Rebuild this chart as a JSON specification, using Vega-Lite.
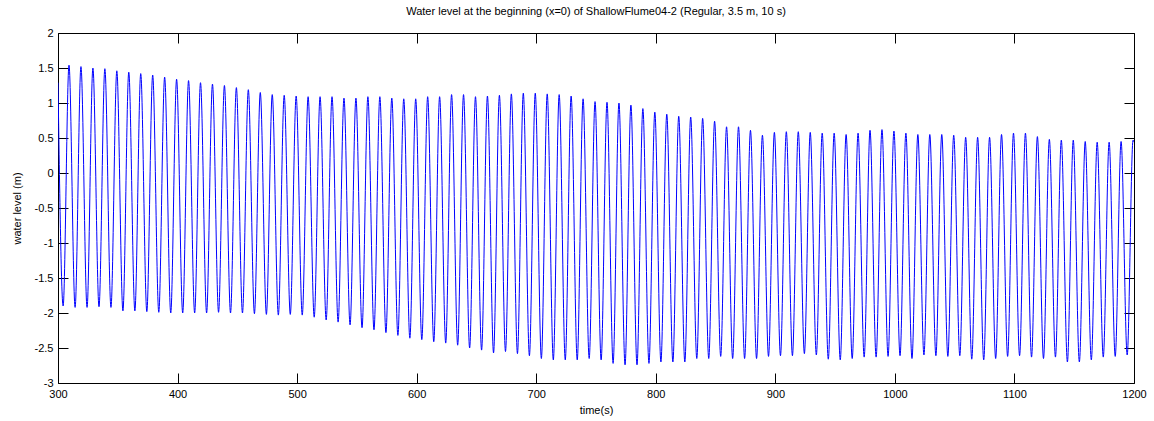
{
  "$schema": "https://vega.github.io/schema/vega-lite/v6.json",
  "width": 1076,
  "height": 350,
  "autosize": {"type": "none"},
  "padding": {"left": 58, "top": 33, "right": 20, "bottom": 38},
  "background": "white",
  "title": {
    "text": "Water level at the beginning (x=0) of ShallowFlume04-2 (Regular, 3.5 m, 10 s)",
    "font": "Liberation Sans",
    "fontSize": 11,
    "fontWeight": "normal",
    "color": "#000000",
    "offset": 10
  },
  "config": {
    "view": {"stroke": null},
    "axis": {
      "grid": false,
      "domainColor": "#000000",
      "domainWidth": 1,
      "tickColor": "#000000",
      "tickWidth": 1,
      "tickSize": -10,
      "labelFlush": false,
      "labelFont": "Liberation Sans",
      "labelFontSize": 11,
      "labelColor": "#000000",
      "titleFont": "Liberation Sans",
      "titleFontSize": 11,
      "titleFontWeight": "normal",
      "titleColor": "#000000"
    }
  },
  "data": {
    "values": [
      {"t": 300, "v": 1.29},
      {"t": 304.3, "v": -1.90}, {"t": 309.2, "v": 1.54},
      {"t": 314.3, "v": -1.92}, {"t": 319.2, "v": 1.52},
      {"t": 324.3, "v": -1.92}, {"t": 329.2, "v": 1.50},
      {"t": 334.3, "v": -1.91}, {"t": 339.2, "v": 1.49},
      {"t": 344.3, "v": -1.92}, {"t": 349.2, "v": 1.46},
      {"t": 354.3, "v": -1.97}, {"t": 359.2, "v": 1.44},
      {"t": 364.3, "v": -1.97}, {"t": 369.2, "v": 1.42},
      {"t": 374.3, "v": -1.98}, {"t": 379.2, "v": 1.40},
      {"t": 384.3, "v": -1.99}, {"t": 389.2, "v": 1.37},
      {"t": 394.3, "v": -2.00}, {"t": 399.2, "v": 1.34},
      {"t": 404.3, "v": -2.00}, {"t": 409.2, "v": 1.32},
      {"t": 414.3, "v": -2.00}, {"t": 419.2, "v": 1.29},
      {"t": 424.3, "v": -2.00}, {"t": 429.2, "v": 1.27},
      {"t": 434.3, "v": -1.99}, {"t": 439.2, "v": 1.25},
      {"t": 444.3, "v": -2.00}, {"t": 449.2, "v": 1.22},
      {"t": 454.3, "v": -2.00}, {"t": 459.2, "v": 1.19},
      {"t": 464.3, "v": -2.01}, {"t": 469.2, "v": 1.15},
      {"t": 474.3, "v": -2.02}, {"t": 479.2, "v": 1.12},
      {"t": 484.3, "v": -2.03}, {"t": 489.2, "v": 1.11},
      {"t": 494.3, "v": -2.02}, {"t": 499.2, "v": 1.10},
      {"t": 504.3, "v": -2.03}, {"t": 509.2, "v": 1.09},
      {"t": 514.3, "v": -2.06}, {"t": 519.2, "v": 1.09},
      {"t": 524.3, "v": -2.10}, {"t": 529.2, "v": 1.09},
      {"t": 534.3, "v": -2.13}, {"t": 539.2, "v": 1.07},
      {"t": 544.3, "v": -2.17}, {"t": 549.2, "v": 1.07},
      {"t": 554.3, "v": -2.21}, {"t": 559.2, "v": 1.09},
      {"t": 564.3, "v": -2.24}, {"t": 569.2, "v": 1.09},
      {"t": 574.3, "v": -2.28}, {"t": 579.2, "v": 1.07},
      {"t": 584.3, "v": -2.32}, {"t": 589.2, "v": 1.06},
      {"t": 594.3, "v": -2.36}, {"t": 599.2, "v": 1.06},
      {"t": 604.3, "v": -2.38}, {"t": 609.2, "v": 1.09},
      {"t": 614.3, "v": -2.41}, {"t": 619.2, "v": 1.09},
      {"t": 624.3, "v": -2.43}, {"t": 629.2, "v": 1.12},
      {"t": 634.3, "v": -2.46}, {"t": 639.2, "v": 1.12},
      {"t": 644.3, "v": -2.50}, {"t": 649.2, "v": 1.09},
      {"t": 654.3, "v": -2.53}, {"t": 659.2, "v": 1.10},
      {"t": 664.3, "v": -2.57}, {"t": 669.2, "v": 1.11},
      {"t": 674.3, "v": -2.55}, {"t": 679.2, "v": 1.13},
      {"t": 684.3, "v": -2.58}, {"t": 689.2, "v": 1.14},
      {"t": 694.3, "v": -2.61}, {"t": 699.2, "v": 1.14},
      {"t": 704.3, "v": -2.65}, {"t": 709.2, "v": 1.13},
      {"t": 714.3, "v": -2.67}, {"t": 719.2, "v": 1.12},
      {"t": 724.3, "v": -2.67}, {"t": 729.2, "v": 1.10},
      {"t": 734.3, "v": -2.67}, {"t": 739.2, "v": 1.06},
      {"t": 744.3, "v": -2.65}, {"t": 749.2, "v": 1.02},
      {"t": 754.3, "v": -2.67}, {"t": 759.2, "v": 1.01},
      {"t": 764.3, "v": -2.72}, {"t": 769.2, "v": 1.00},
      {"t": 774.3, "v": -2.74}, {"t": 779.2, "v": 0.97},
      {"t": 784.3, "v": -2.74}, {"t": 789.2, "v": 0.92},
      {"t": 794.3, "v": -2.72}, {"t": 799.2, "v": 0.87},
      {"t": 804.3, "v": -2.70}, {"t": 809.2, "v": 0.84},
      {"t": 814.3, "v": -2.70}, {"t": 819.2, "v": 0.81},
      {"t": 824.3, "v": -2.70}, {"t": 829.2, "v": 0.80},
      {"t": 834.3, "v": -2.65}, {"t": 839.2, "v": 0.78},
      {"t": 844.3, "v": -2.65}, {"t": 849.2, "v": 0.74},
      {"t": 854.3, "v": -2.62}, {"t": 859.2, "v": 0.66},
      {"t": 864.3, "v": -2.65}, {"t": 869.2, "v": 0.66},
      {"t": 874.3, "v": -2.65}, {"t": 879.2, "v": 0.61},
      {"t": 884.3, "v": -2.65}, {"t": 889.2, "v": 0.54},
      {"t": 894.3, "v": -2.62}, {"t": 899.2, "v": 0.58},
      {"t": 904.3, "v": -2.61}, {"t": 909.2, "v": 0.59},
      {"t": 914.3, "v": -2.61}, {"t": 919.2, "v": 0.59},
      {"t": 924.3, "v": -2.58}, {"t": 929.2, "v": 0.58},
      {"t": 934.3, "v": -2.60}, {"t": 939.2, "v": 0.57},
      {"t": 944.3, "v": -2.66}, {"t": 949.2, "v": 0.57},
      {"t": 954.3, "v": -2.67}, {"t": 959.2, "v": 0.55},
      {"t": 964.3, "v": -2.65}, {"t": 969.2, "v": 0.57},
      {"t": 974.3, "v": -2.63}, {"t": 979.2, "v": 0.61},
      {"t": 984.3, "v": -2.63}, {"t": 989.2, "v": 0.62},
      {"t": 994.3, "v": -2.62}, {"t": 999.2, "v": 0.60},
      {"t": 1004.3, "v": -2.61}, {"t": 1009.2, "v": 0.57},
      {"t": 1014.3, "v": -2.65}, {"t": 1019.2, "v": 0.55},
      {"t": 1024.3, "v": -2.60}, {"t": 1029.2, "v": 0.55},
      {"t": 1034.3, "v": -2.61}, {"t": 1039.2, "v": 0.55},
      {"t": 1044.3, "v": -2.62}, {"t": 1049.2, "v": 0.54},
      {"t": 1054.3, "v": -2.61}, {"t": 1059.2, "v": 0.51},
      {"t": 1064.3, "v": -2.66}, {"t": 1069.2, "v": 0.51},
      {"t": 1074.3, "v": -2.67}, {"t": 1079.2, "v": 0.51},
      {"t": 1084.3, "v": -2.65}, {"t": 1089.2, "v": 0.55},
      {"t": 1094.3, "v": -2.62}, {"t": 1099.2, "v": 0.57},
      {"t": 1104.3, "v": -2.61}, {"t": 1109.2, "v": 0.57},
      {"t": 1114.3, "v": -2.63}, {"t": 1119.2, "v": 0.52},
      {"t": 1124.3, "v": -2.65}, {"t": 1129.2, "v": 0.48},
      {"t": 1134.3, "v": -2.63}, {"t": 1139.2, "v": 0.47},
      {"t": 1144.3, "v": -2.70}, {"t": 1149.2, "v": 0.47},
      {"t": 1154.3, "v": -2.70}, {"t": 1159.2, "v": 0.45},
      {"t": 1164.3, "v": -2.67}, {"t": 1169.2, "v": 0.44},
      {"t": 1174.3, "v": -2.63}, {"t": 1179.2, "v": 0.44},
      {"t": 1184.3, "v": -2.62}, {"t": 1189.2, "v": 0.45},
      {"t": 1194.3, "v": -2.60}, {"t": 1199.2, "v": 0.47},
      {"t": 1200, "v": 0.44}
    ]
  },
  "layer": [
    {
      "mark": {"type": "line", "color": "#0000ff", "strokeWidth": 1, "interpolate": "monotone", "clip": true},
      "encoding": {
        "x": {
          "field": "t", "type": "quantitative",
          "scale": {"domain": [300, 1200], "nice": false, "zero": false},
          "axis": {
            "orient": "bottom", "title": "time(s)",
            "values": [300, 400, 500, 600, 700, 800, 900, 1000, 1100, 1200],
            "format": "d", "labelPadding": 15, "titlePadding": 5
          }
        },
        "y": {
          "field": "v", "type": "quantitative",
          "scale": {"domain": [-3, 2], "nice": false, "zero": false},
          "axis": {
            "orient": "left", "title": "water level (m)",
            "values": [-3, -2.5, -2, -1.5, -1, -0.5, 0, 0.5, 1, 1.5, 2],
            "format": ".1~f",
            "labelExpr": "replace(datum.label, '\u2212', '-')",
            "labelPadding": 15, "titlePadding": 12
          }
        }
      }
    },
    {
      "mark": {"type": "line", "opacity": 0},
      "encoding": {
        "x": {
          "field": "t", "type": "quantitative",
          "scale": {"domain": [300, 1200], "nice": false, "zero": false},
          "axis": {
            "orient": "top", "title": null, "labels": false,
            "values": [300, 400, 500, 600, 700, 800, 900, 1000, 1100, 1200]
          }
        },
        "y": {
          "field": "v", "type": "quantitative",
          "scale": {"domain": [-3, 2], "nice": false, "zero": false},
          "axis": {
            "orient": "right", "title": null, "labels": false,
            "values": [-3, -2.5, -2, -1.5, -1, -0.5, 0, 0.5, 1, 1.5, 2]
          }
        }
      }
    }
  ],
  "resolve": {"axis": {"x": "independent", "y": "independent"}}
}
